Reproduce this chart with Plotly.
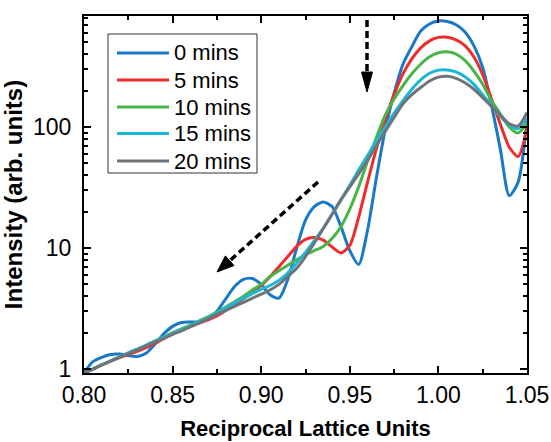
import plotly.graph_objects as go

x_vals = [0.800, 0.805, 0.810, 0.815, 0.820, 0.825, 0.830, 0.835, 0.840, 0.845,
          0.850, 0.855, 0.860, 0.865, 0.870, 0.875, 0.880, 0.885, 0.890, 0.895,
          0.900, 0.905, 0.910, 0.915, 0.920, 0.925, 0.930, 0.935, 0.940, 0.945,
          0.950, 0.955, 0.960, 0.965, 0.970, 0.975, 0.980, 0.985, 0.990, 0.995,
          1.000, 1.005, 1.010, 1.015, 1.020, 1.025, 1.030, 1.035, 1.040, 1.045, 1.050]

y_0min = [0.93, 1.15, 1.25, 1.32, 1.33, 1.29, 1.27, 1.35, 1.6, 1.95,
          2.25, 2.42, 2.45, 2.45, 2.6, 3.0, 3.8, 4.8, 5.5, 5.6,
          5.0, 4.1, 3.85, 5.5, 10, 17, 22, 24, 22, 15,
          9.5, 7.3, 14, 38, 95, 190, 330, 460, 620, 710,
          750, 745, 700, 610, 470, 310, 150, 65, 27, 35, 115]

y_5min = [0.93, 1.0, 1.08, 1.16, 1.24, 1.32, 1.4, 1.5, 1.63, 1.78,
          1.95, 2.1, 2.25, 2.4, 2.55, 2.75, 3.05, 3.4, 3.8, 4.3,
          4.9, 5.8, 7.0, 8.5, 10.3, 11.8, 12.2, 11.6, 10.2, 9.1,
          10.5, 18, 35, 66, 115, 185, 275, 365, 450, 515,
          550, 552, 525, 470, 380, 270, 170, 105, 68, 57, 98]

y_10min = [0.93, 1.0, 1.08, 1.16, 1.25, 1.35, 1.45, 1.57, 1.7, 1.84,
           2.0, 2.15, 2.3, 2.5, 2.7, 2.95, 3.25, 3.6, 4.0, 4.5,
           5.0, 5.8, 6.5, 7.2, 8.0, 8.8, 9.5, 10.3, 12, 15,
           21, 32, 52, 82, 125, 170, 220, 275, 330, 380,
           410, 418, 400, 355, 290, 225, 165, 128, 100, 89, 108]

y_15min = [0.93, 1.0, 1.08, 1.17, 1.26, 1.36, 1.46, 1.57, 1.7, 1.83,
           1.97, 2.12, 2.28, 2.45, 2.65, 2.9, 3.2, 3.5, 3.85, 4.2,
           4.55, 4.9, 5.4, 6.2, 7.5, 9.2, 11.5, 14.5, 19, 25,
           33, 44, 58, 77, 100, 130, 165, 205, 245, 278,
           295, 296, 285, 260, 225, 185, 150, 122, 104, 97, 120]

y_20min = [0.93, 1.0, 1.08, 1.16, 1.25, 1.34, 1.44, 1.55, 1.67, 1.79,
           1.93, 2.07, 2.23, 2.4, 2.6, 2.82, 3.05, 3.3, 3.55, 3.85,
           4.15, 4.5, 5.0, 5.8, 6.8, 8.5, 11, 14.5, 19, 25,
           32, 41, 53, 70, 92, 120, 155, 185, 212, 240,
           258, 262, 252, 232, 205, 175, 148, 125, 106, 102, 132]

series_names = ["0 mins", "5 mins", "10 mins", "15 mins", "20 mins"]
series_values = [y_0min, y_5min, y_10min, y_15min, y_20min]
series_colors = ["#1a78c8", "#ee2c2c", "#48b548", "#1ab8d8", "#6f7479"]

y_tickvals = [1, 10, 100]
y_ticktext = ["1", "10", "100"]
y_minor = [2, 3, 4, 5, 6, 7, 8, 9, 20, 30, 40, 50, 60, 70, 80, 90,
           200, 300, 400, 500, 600, 700, 800]
x_tickvals = [0.80, 0.85, 0.90, 0.95, 1.00, 1.05]
x_ticktext = ["0.80", "0.85", "0.90", "0.95", "1.00", "1.05"]

FONT = "Liberation Sans, Arial, sans-serif"

fig = go.Figure()
for name, vals, col in zip(series_names, series_values, series_colors):
    fig.add_trace(go.Scatter(x=x_vals, y=vals, name=name, mode="lines", showlegend=False,
                             line=dict(color=col, width=3, shape="spline", smoothing=0.7)))

# layout geometry (pixels)
W, H = 551, 442
L, R, T, B = 84, 24, 16, 69
PW, PH = W - L - R, H - T - B


def P(px, py):
    return (px - L) / PW, (T + PH - py) / PH


def dashed(p0, p1):
    a = P(*p0)
    b = P(*p1)
    fig.add_shape(type="line", xref="paper", yref="paper", x0=a[0], y0=a[1], x1=b[0], y1=b[1],
                  line=dict(color="black", width=3.5, dash="7px,4px"), layer="above")


def head(pts):
    cs = [P(*p) for p in pts]
    path = "M{},{} L{},{} L{},{} Z".format(cs[0][0], cs[0][1], cs[1][0], cs[1][1], cs[2][0], cs[2][1])
    fig.add_shape(type="path", xref="paper", yref="paper", path=path,
                  fillcolor="black", line=dict(color="black", width=1), layer="above")


# vertical arrow
dashed((367, 20), (367, 74))
head([(367, 92), (361.5, 72), (372.5, 72)])
# diagonal arrow
dashed((318, 182), (230, 260.5))
head([(217, 272), (234.0, 265.5), (225.4, 255.9)])

# legend box (drawn as a framed key, same order/colours as the traces)
b0 = P(108, 34)
b1 = P(257, 173)
fig.add_shape(type="rect", xref="paper", yref="paper", x0=b0[0], y0=b1[1], x1=b1[0], y1=b0[1],
              fillcolor="white", line=dict(color="#333333", width=1), layer="above")
legend_rows = [53, 80, 107, 133.5, 161]
for name, col, ry in zip(series_names, series_colors, legend_rows):
    a = P(117, ry)
    b = P(169, ry)
    fig.add_shape(type="line", xref="paper", yref="paper", x0=a[0], y0=a[1], x1=b[0], y1=b[1],
                  line=dict(color=col, width=3), layer="above")
    t = P(172, ry)
    fig.add_annotation(xref="paper", yref="paper", x=t[0], y=t[1], text=name, showarrow=False,
                       xanchor="left", yanchor="middle",
                       font=dict(family=FONT, size=22, color="black"))

axis_common = dict(showline=True, linecolor="black", linewidth=2, mirror="ticks",
                   ticks="inside", tickcolor="black", tickwidth=1.5, ticklen=7,
                   showgrid=False, zeroline=False, automargin=False,
                   tickfont=dict(family=FONT, size=23, color="black"))

fig.update_xaxes(range=[0.80, 1.05], tickvals=x_tickvals, ticktext=x_ticktext,
                 minor=dict(ticks="inside", ticklen=4, tickwidth=1.5, tickcolor="black",
                            dtick=0.025, tick0=0.8, showgrid=False),
                 title=dict(text="Reciprocal Lattice Units", standoff=14,
                            font=dict(family=FONT, size=22, color="black", weight="bold")),
                 ticklabelstandoff=0,
                 **axis_common)
fig.update_yaxes(type="log", range=[-0.033, 2.917], tickvals=y_tickvals, ticktext=y_ticktext,
                 minor=dict(ticks="inside", ticklen=4, tickwidth=1.5, tickcolor="black",
                            tickvals=y_minor, showgrid=False),
                 title=dict(text="Intensity (arb. units)", standoff=8,
                            font=dict(family=FONT, size=24, color="black", weight="bold")),
                 ticklabelstandoff=6,
                 **axis_common)

fig.update_layout(
    width=W, height=H,
    margin=dict(l=L, r=R, t=T, b=B, pad=0, autoexpand=False),
    paper_bgcolor="white", plot_bgcolor="white",
    font=dict(family=FONT, color="black"),
    showlegend=False,
)

fig.write_html("out.html")
